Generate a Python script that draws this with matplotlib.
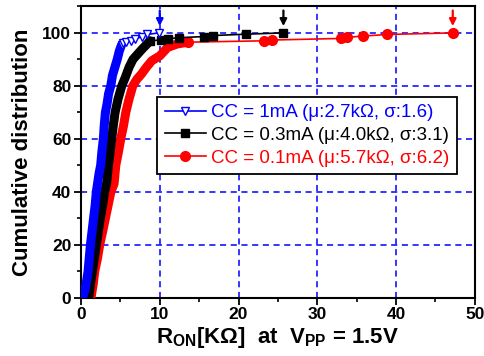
import matplotlib
matplotlib.use("Agg")
import matplotlib.pyplot as plt
from matplotlib.ticker import MultipleLocator

plt.rcParams['font.family'] = ['Liberation Sans', 'DejaVu Sans']
plt.rcParams['mathtext.fontset'] = 'custom'
plt.rcParams['mathtext.rm'] = 'Liberation Sans:bold'
plt.rcParams['mathtext.bf'] = 'Liberation Sans:bold'
plt.rcParams['mathtext.default'] = 'bf'

# CC = 1mA (blue): dense part of the curve, then the sparse tail
blue_x = [0.25, 0.6, 0.9, 1.05, 1.2, 1.4, 1.6, 1.8, 1.95, 2.15, 2.3, 2.5,
          2.65, 2.84, 2.95, 3.1, 3.3, 3.5, 3.78, 4.0, 4.3, 4.6, 4.85, 5.15]
blue_y = [0.5, 4, 10, 15, 20, 25, 30, 35, 40, 44, 47, 50,
          55, 60, 65, 70, 73, 77, 80, 84, 87, 90, 93, 95.5]
blue_tail_x = [5.3, 5.7, 6.3, 6.9, 7.7, 8.4, 9.9]
blue_tail_y = [96.0, 96.6, 97.1, 97.6, 98.6, 99.4, 100]

# CC = 0.3mA (black)
black_x = [1.0, 1.2, 1.45, 1.7, 1.95, 2.2, 2.46, 2.75, 3.0, 3.25, 3.48, 3.7,
           3.9, 4.1, 4.33, 4.7, 5.18, 5.6, 6.1, 6.6, 7.2, 7.8, 8.3, 8.75]
black_y = [0.5, 5, 10, 15, 20, 25, 30, 35, 40, 43, 50, 55,
           60, 65, 70, 75, 80, 83, 87, 90, 92, 94, 95.5, 97]
black_tail_x = [10.1, 11.1, 12.5, 15.6, 16.8, 20.9, 25.7]
black_tail_y = [97.3, 97.8, 98.2, 98.6, 99.0, 99.5, 100]

# CC = 0.1mA (red)
red_x = [1.3, 1.55, 1.75, 2.1, 2.38, 2.75, 3.1, 3.45, 3.8, 4.2, 4.42, 4.75, 5.05,
         5.4, 5.69, 6.1, 6.58, 7.1, 7.69, 8.3, 9.0, 10.0, 11.0, 12.2, 13.6]
red_y = [0.5, 5, 10, 15, 20, 25, 30, 35, 40, 43, 50, 55, 60,
         65, 70, 75, 80, 82.5, 84.5, 87, 89.5, 91.3, 94.5, 95.8, 96.5]
red_tail_x = [23.2, 24.2, 33.0, 33.8, 35.8, 38.9, 47.2]
red_tail_y = [97.0, 97.3, 97.9, 98.3, 98.8, 99.4, 100]

labels = ["CC = 1mA (\u03bc:2.7k\u03a9, \u03c3:1.6)",
          "CC = 0.3mA (\u03bc:4.0k\u03a9, \u03c3:3.1)",
          "CC = 0.1mA (\u03bc:5.7k\u03a9, \u03c3:6.2)"]
arrow_x = [10.0, 25.7, 47.2]

BLUE = '#0000ff'
RED = '#ff0000'

fig = plt.figure(figsize=(4.85, 3.56), dpi=100)
ax = fig.add_axes([0.167, 0.164, 0.812, 0.818])

# red first so black and blue sit on top of it
series = [
    (red_x, red_y, red_tail_x, red_tail_y, RED, 'o', RED, 7, labels[2]),
    (black_x, black_y, black_tail_x, black_tail_y, 'black', 's', 'black', 5.5, labels[1]),
    (blue_x, blue_y, blue_tail_x, blue_tail_y, BLUE, 'v', 'white', 6, labels[0]),
]
handles = {}
for i, (x, y, tx, ty, c, m, mfc, ms, lab) in enumerate(series):
    z = 3 + i
    # the dense part is a solid band of overlapping markers
    ax.plot(x, y, color=c, lw=6.5, solid_capstyle='round', zorder=z)
    ax.plot(x[-1:] + tx, y[-1:] + ty, color=c, lw=1.2, marker=m, ms=ms,
            mfc=mfc, mec=c, mew=1.0, zorder=z + 0.5)
    # proxy for the legend
    h, = ax.plot([], [], color=c, lw=1.2, marker=m, ms=ms, mfc=mfc, mec=c, mew=1.0, label=lab)
    handles[lab] = h

for xa, c in zip(arrow_x, [BLUE, 'black', RED]):
    ax.annotate('', xy=(xa, 101.5), xytext=(xa, 109.5),
                arrowprops=dict(arrowstyle='-|>', color=c, lw=1.6, mutation_scale=10),
                annotation_clip=False, zorder=8)

ax.set_xlim(0, 50)
ax.set_ylim(0, 110)
ax.xaxis.set_major_locator(MultipleLocator(10))
ax.xaxis.set_minor_locator(MultipleLocator(5))
ax.yaxis.set_major_locator(MultipleLocator(20))
ax.yaxis.set_minor_locator(MultipleLocator(10))
ax.tick_params(which='major', direction='out', length=5, width=1.3, labelsize=12.5, pad=2)
ax.tick_params(which='minor', direction='out', length=3, width=1.2)
for lbl in ax.get_xticklabels() + ax.get_yticklabels():
    lbl.set_fontweight('bold')
for sp in ax.spines.values():
    sp.set_linewidth(1.5)

ax.grid(True, which='major', color=BLUE, linestyle=(0, (4, 3)), linewidth=1.1)

ax.set_ylabel("Cumulative distribution", fontsize=16, fontweight='bold', labelpad=7)
ax.set_xlabel(r"$R_{ON}[K\Omega]$  at  $V_{PP}$ = 1.5V", fontsize=16, fontweight='bold', labelpad=2)

leg = ax.legend([handles[l] for l in labels], labels, loc='upper left',
                bbox_to_anchor=(0.193, 0.690), borderaxespad=0, fontsize=13.5,
                handlelength=2.2, handletextpad=0.3, labelspacing=0.3,
                borderpad=0.4, fancybox=False, framealpha=1, edgecolor='black')
leg.get_frame().set_linewidth(1.3)
leg.set_zorder(10)
for txt, c in zip(leg.get_texts(), [BLUE, 'black', RED]):
    txt.set_color(c)

fig.savefig('out.png', dpi=100)
